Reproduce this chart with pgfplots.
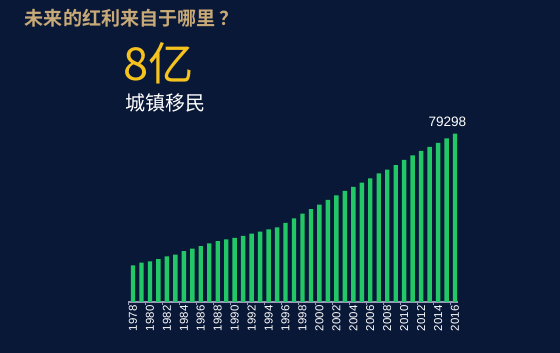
\documentclass[border=0pt]{standalone}
\usepackage{pgfplots}
\pgfplotsset{compat=1.18}
\usepackage{fontspec}
\setmainfont{Liberation Sans}
\newfontfamily\cjk{Noto Sans CJK SC}
\newfontfamily\cjkb{Noto Sans CJK SC Bold}
\definecolor{bg}{HTML}{0A1838}
\definecolor{bargreen}{HTML}{22C866}
\definecolor{gold}{HTML}{F5C21E}
\definecolor{tan}{HTML}{C8AA78}
\definecolor{axgray}{HTML}{9A9AB8}
\begin{document}
\begin{tikzpicture}
\fill[bg] (0pt,0pt) rectangle (420pt,264.75pt);
\useasboundingbox (0pt,0pt) rectangle (420pt,264.75pt);
\node[anchor=west,text=tan,font=\cjkb\fontsize{14.3}{16}\selectfont,inner sep=0pt] at (18.5pt,251.25pt) {未来的红利来自于哪里\hspace{3pt}？};
\node[anchor=west,text=gold,font=\cjk\fontsize{34}{36}\selectfont,inner sep=0pt] at (92.5pt,217.5pt) {8亿};
\node[anchor=west,text=white,font=\cjk\fontsize{15}{17}\selectfont,inner sep=0pt] at (94pt,187.5pt) {城镇移民};
\begin{axis}[
  at={(96pt,38.25pt)}, anchor=south west,
  scale only axis, width=247.5pt, height=143.3pt,
  xmin=1977.41, xmax=2016.35, ymin=0, ymax=90000,
  axis x line=bottom, axis y line=none,
  x axis line style={axgray,-, line width=0.8pt},
  xtick={1978,1980,...,2016},
  minor xtick={1977.5,1979.5,...,2015.5},
  major tick length=0pt,
  minor tick length=2.5pt,
  tick align=outside,
  minor tick style={axgray,line width=0.6pt},
  /pgf/number format/assume math mode=true,
  xticklabel style={rotate=90,anchor=east,text=white,font=\fontsize{8.6}{9}\selectfont,inner xsep=2.5pt},
  xticklabel={\pgfmathprintnumber[1000 sep={},fixed]{\tick}},
  clip=false,
]
\addplot[ybar, bar width=3.3pt, fill=bargreen, draw=none] coordinates {
(1978,17245) (1979,18495) (1980,19140) (1981,20171) (1982,21480) (1983,22274)
(1984,24017) (1985,25094) (1986,26366) (1987,27674) (1988,28661) (1989,29540)
(1990,30195) (1991,31203) (1992,32175) (1993,33173) (1994,34169) (1995,35174)
(1996,37304) (1997,39449) (1998,41608) (1999,43748) (2000,45906) (2001,48064)
(2002,50212) (2003,52376) (2004,54283) (2005,56212) (2006,58288) (2007,60633)
(2008,62403) (2009,64512) (2010,66978) (2011,69079) (2012,71182) (2013,73111)
(2014,74916) (2015,77116) (2016,79298)
};
\node[anchor=south,text=white,font=\fontsize{10.2}{11}\selectfont] at (axis cs:2015.1,80500) {79298};
\end{axis}
\end{tikzpicture}
\end{document}
